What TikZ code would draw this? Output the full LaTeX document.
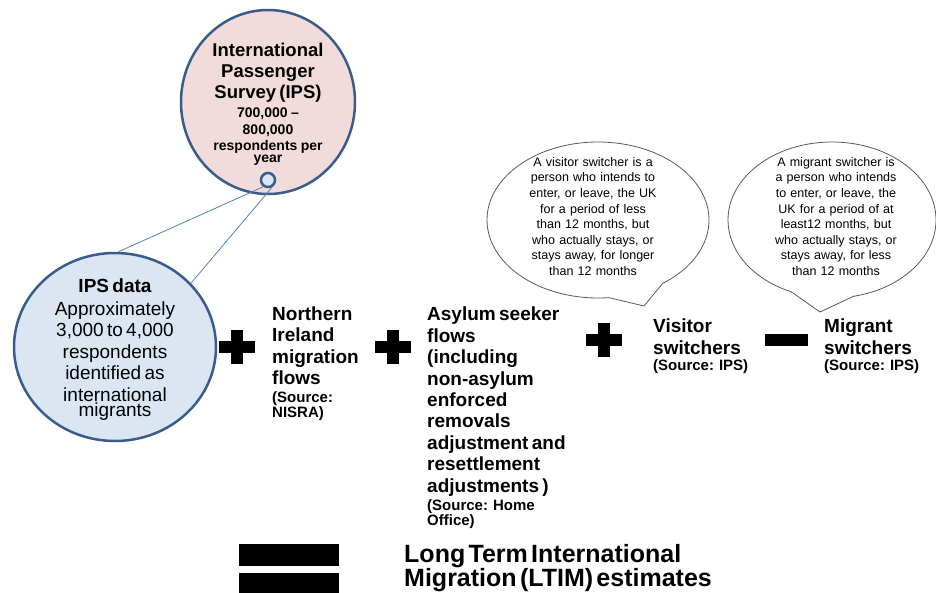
\documentclass[tikz,border=0pt]{standalone}
\usepackage{fontspec}
\setmainfont{Liberation Sans}
\usetikzlibrary{positioning,
                shapes.geometric,           % ellipse
                shapes.callouts}            % speech bubbles

\definecolor{ipsedge}{HTML}{385D8A}
\definecolor{ipspink}{HTML}{F2DCDB}
\definecolor{ipsblue}{HTML}{DCE6F2}
\definecolor{linkblue}{HTML}{4F81BD}

\newcommand\headfont{\fontsize{19}{21.4}\selectfont\bfseries}
\newcommand\plainfont{\fontsize{19}{21.6}\selectfont\mdseries}
\newcommand\srcfont{\fontsize{15}{16.5}\selectfont\bfseries}
\newcommand\surveyfont{\fontsize{18.5}{20.7}\selectfont\bfseries}
\newcommand\countfont{\fontsize{14}{16.6}\selectfont\bfseries}
\newcommand\notefont{\fontsize{12.5}{15.6}\selectfont\mdseries}
\newcommand\ltimfont{\fontsize{25}{27}\selectfont\bfseries}

\begin{document}
\begin{tikzpicture}[x=1pt, y=-1pt,
    blob/.style={ellipse, draw=ipsedge, line width=2.5pt, inner sep=0pt},
    bubble/.style={ellipse callout, draw=black!65, line width=0.8pt, inner sep=0pt},
    txt/.style={inner sep=0pt, anchor=north west, text width=#1, align=left},
    txt/.default=150pt,
    midtxt/.style={inner sep=0pt, anchor=north, text width=#1, align=center},
    midtxt/.default=150pt,
    link/.style={linkblue, line width=0.8pt},
    plussign/.pic={\fill (-18,-6) rectangle (18,6);
                   \fill (-6,-17) rectangle (6,17);}]
    \useasboundingbox (0,0) rectangle (936,592);
    \clip (0,0) rectangle (936,592);

    % survey and sample
    \node[blob, fill=ipspink, minimum width=174pt, minimum height=184pt] (survey) at (268,102) {};
    \node[midtxt] (surveytext) at (268,43)
      {\surveyfont International\\Passenger\\Survey (IPS)\par\vspace{3pt}
       \countfont 700,000 --\\800,000\\respondents per\\year};
    \node[circle, draw=ipsedge, fill=ipsblue, line width=2.5pt, minimum size=14pt, inner sep=0pt] (dot) at (268,180) {};

    \node[blob, fill=ipsblue, minimum width=202pt, minimum height=188pt] (ipsdata) at (115,347) {};
    \node[midtxt] (ipsdatatext) at (115,279)
      {\headfont IPS data\par\vspace{0.5pt}\plainfont Approximately\\3,000 to 4,000\\respondents\\identified as\\international\\migrants};

    \draw[link] (dot.235) -- (ipsdata.88);
    \draw[link] (dot.300) -- (ipsdata.40);

    % the sum
    \pic at (237,347) {plussign};
    \node[txt=110pt] (nireland) at (272,306.5)
      {\headfont Northern\\Ireland\\migration\\flows\par\vspace{1.5pt}\srcfont (Source:\\NISRA)};

    \pic at (393,347) {plussign};
    \node[txt=160pt] (asylum) at (427,307)
      {\headfont Asylum seeker\\flows\\(including\\non-asylum\\enforced\\removals\\adjustment and\\resettlement\\adjustments )\par\vspace{1.5pt}\srcfont (Source: Home\\Office)};

    \pic at (604,340) {plussign};
    \node[txt=110pt] (visitor) at (653,319)
      {\headfont Visitor\\switchers\par\vspace{4pt}\srcfont (Source: IPS)};

    \fill (765,334) rectangle (808,346);
    \node[txt=110pt] (migrant) at (824,319)
      {\headfont Migrant\\switchers\par\vspace{4pt}\srcfont (Source: IPS)};

    % notes
    \node[bubble, minimum width=222pt, minimum height=156pt,
          callout absolute pointer={(644,306)}, callout pointer arc=30] (visitorbubble) at (598,220) {};
    \node[midtxt=140pt, font=\notefont] (visitornote) at (593,157)
      {A visitor switcher is a\\person who intends to\\enter, or leave, the UK\\for a period of less\\than 12 months, but\\who actually stays, or\\stays away, for longer\\than 12 months};

    \node[bubble, minimum width=208pt, minimum height=156pt,
          callout absolute pointer={(820,312)}, callout pointer arc=35] (migrantbubble) at (832,220) {};
    \node[midtxt=140pt, font=\notefont] (migrantnote) at (836,157)
      {A migrant switcher is\\a person who intends\\to enter, or leave, the\\UK for a period of at\\least12 months, but\\who actually stays, or\\stays away, for less\\than 12 months};

    % result
    \fill (239,544) rectangle (339,566);
    \fill (239,573) rectangle (339,597);
    \node[txt=340pt] (ltim) at (404,544)
      {\ltimfont Long Term International\\Migration (LTIM) estimates};
\end{tikzpicture}
\end{document}
